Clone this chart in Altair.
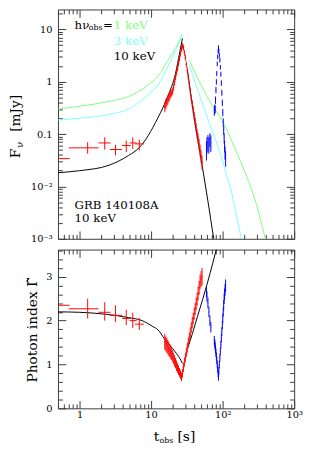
import altair as alt
import pandas as pd

FONT = "DejaVu Serif"
FRAME = "#3a3a3a"
RED = "#ff0000"
BLUE = "#0000ff"
GREEN = "#7cff7c"
CYAN = "#7cffff"
BLACK = "#000000"

# ---------------- model curves (top panel: F_nu [mJy]) ----------------
green_t = [0.5, 1.0, 2.58, 4.84, 9.1, 12.5, 17.1, 21.8, 27.4, 34.2, 44.0, 66.4, 102, 164, 213, 292, 360, 420]
green_F = [0.30, 0.34, 0.42, 0.52, 0.87, 1.28, 2.55, 4.3, 8.1, 2.55, 1.22, 0.42, 0.166, 0.039, 0.0165, 0.0049, 0.00166, 0.0007]
green_seg = [0, 0, 0, 0, 0, 0, 0, 0, 0, 1, 1, 1, 1, 1, 1, 1, 1, 1]
cyan_t = [0.5, 1.0, 2.58, 4.84, 9.1, 12.5, 17.1, 21.8, 27.4, 34.2, 44.0, 62.5, 96, 113, 133, 155, 182, 200]
cyan_F = [0.186, 0.20, 0.237, 0.30, 0.56, 0.866, 1.9, 3.77, 7.8, 2.1, 0.75, 0.19, 0.0365, 0.017, 0.0078, 0.0029, 0.001, 0.0005]
cyan_seg = [0, 0, 0, 0, 0, 0, 0, 0, 0, 1, 1, 1, 1, 1, 1, 1, 1, 1]
black_t = [0.5, 1.0, 2.58, 4.84, 6.9, 9.1, 10.6, 12.5, 17.1, 22.0, 25.0, 27.4, 32.2, 39.8, 51.5, 62.5, 75.2, 82]
black_F = [0.0183, 0.020, 0.0254, 0.039, 0.056, 0.093, 0.134, 0.206, 0.525, 1.45, 3.5, 6.7, 1.68, 0.218, 0.026, 0.0051, 0.001, 0.0005]
black_seg = [0, 0, 0, 0, 0, 0, 0, 0, 0, 0, 0, 0, 1, 1, 1, 1, 1, 1]

# ---------------- model curve (bottom panel: photon index) ----------------
gam_t = [0.5, 1.0, 2.2, 4.84, 7.5, 10.6, 12.5, 15.3, 21.7, 25.2, 27.4, 32.2, 37.9, 44.6, 52.5, 61.8, 72.8, 83]
gam_G = [2.20, 2.19, 2.15, 2.07, 2.0, 1.865, 1.79, 1.59, 1.29, 1.14, 1.025, 1.355, 1.71, 2.10, 2.48, 2.88, 3.31, 3.67]
gam_seg = [0, 0, 0, 0, 0, 0, 0, 0, 0, 0, 0, 1, 1, 1, 1, 1, 1, 1]

# ---------------- early binned points (red) ----------------
e_t = [0.47, 1.30, 2.25, 3.18, 4.5, 5.55, 6.85]
e_tlo = [0.30, 0.707, 1.84, 2.66, 3.92, 5.0, 5.97]
e_thi = [0.73, 1.84, 2.72, 3.92, 5.2, 6.3, 7.93]
e_F = [0.034, 0.0546, 0.0678, 0.0507, 0.0604, 0.0678, 0.065]
e_Flo = [0.030, 0.0422, 0.0507, 0.0392, 0.0453, 0.0522, 0.0487]
e_Fhi = [0.038, 0.0699, 0.0867, 0.0622, 0.0749, 0.0867, 0.078]
e_G = [2.35, 2.27, 2.19, 2.12, 2.05, 2.0, 1.92]
e_Glo = [2.28, 2.05, 2.0, 1.97, 1.90, 1.83, 1.79]
e_Ghi = [2.42, 2.50, 2.42, 2.35, 2.25, 2.18, 2.06]

# ---------------- dense points, first pulse (red) ----------------
r_t = [15.55, 16.05, 16.57, 17.10, 17.65, 18.21, 18.79, 19.40, 20.02, 20.66, 21.32, 22.00, 22.71,
       23.44, 24.19, 24.96, 25.76, 26.59, 27.44, 28.32, 29.23, 30.16, 31.13, 32.13, 33.15, 34.21,
       35.31, 36.44, 37.61, 38.81, 40.06, 41.34, 42.66, 44.03, 45.44, 46.90, 48.40, 49.95, 51.55]
r_F = [0.335, 0.382, 0.416, 0.454, 0.494, 0.539, 0.588, 0.614, 0.669, 0.796, 0.987, 1.225, 1.52,
       1.81, 2.24, 2.78, 3.45, 4.29, 4.88, 4.48, 3.61, 2.90, 2.15, 1.66, 1.225, 0.905,
       0.669, 0.494, 0.382, 0.294, 0.227, 0.175, 0.135, 0.104, 0.084, 0.065, 0.050, 0.0387, 0.0298]
r_Fe = [0.22, 0.22, 0.20, 0.20, 0.18, 0.18, 0.16, 0.15, 0.15, 0.15, 0.14, 0.14, 0.14,
        0.13, 0.13, 0.13, 0.13, 0.13, 0.13, 0.13, 0.13, 0.13, 0.13, 0.14, 0.14, 0.14,
        0.15, 0.15, 0.16, 0.17, 0.18, 0.19, 0.20, 0.21, 0.22, 0.24, 0.26, 0.28, 0.30]
r_G = [1.52, 1.47, 1.44, 1.40, 1.36, 1.32, 1.28, 1.24, 1.19, 1.14, 1.08, 1.03, 0.97,
       0.92, 0.87, 0.82, 0.77, 0.72, 0.80, 0.93, 1.05, 1.16, 1.27, 1.38, 1.50, 1.61,
       1.72, 1.84, 1.95, 2.05, 2.16, 2.27, 2.38, 2.49, 2.62, 2.75, 2.88, 2.95, 3.0]
r_Ge = [0.18, 0.17, 0.17, 0.16, 0.16, 0.15, 0.15, 0.14, 0.14, 0.13, 0.13, 0.12, 0.12,
        0.11, 0.11, 0.10, 0.10, 0.10, 0.10, 0.10, 0.10, 0.10, 0.10, 0.11, 0.11, 0.11,
        0.12, 0.12, 0.13, 0.13, 0.14, 0.14, 0.15, 0.15, 0.16, 0.16, 0.17, 0.18, 0.20]

# ---------------- dense points, second pulse (blue) ----------------
b_t = [59.4, 60.4, 62.3, 64.3, 66.4, 68.5,
       76.5, 77.7, 78.5, 79.6, 80.7, 81.8, 82.8, 84.1, 85.4, 86.6, 87.5, 88.5, 90.0, 91.5, 93.0,
       94.5, 96.0, 97.5, 99.0, 100.5, 102.0, 103.5, 105.0, 106.5, 108.0, 110.0]
b_F = [0.052, 0.065, 0.071, 0.065, 0.080, 0.070,
       0.28, 0.31, 0.30, 0.45, 0.70, 1.0, 1.44, 2.2, 3.0, 3.8, 4.5, 3.9, 3.2, 2.6, 1.9,
       1.4, 0.95, 0.62, 0.40, 0.26, 0.17, 0.12, 0.085, 0.060, 0.045, 0.035]
b_Fe = [0.40, 0.35, 0.35, 0.35, 0.30, 0.35,
        0.20, 0.18, 0.18, 0.16, 0.14, 0.12, 0.11, 0.10, 0.10, 0.10, 0.10, 0.10, 0.10, 0.10, 0.10,
        0.11, 0.12, 0.13, 0.14, 0.16, 0.18, 0.20, 0.22, 0.25, 0.28, 0.32]
b_G = [2.65, 2.55, 2.40, 2.20, 2.00, 1.85,
       1.55, 1.48, 1.42, 1.35, 1.27, 1.18, 1.10, 1.00, 0.90, 0.80, 0.72, 0.85, 1.00, 1.15, 1.30,
       1.45, 1.60, 1.75, 1.90, 2.05, 2.20, 2.35, 2.50, 2.60, 2.70, 2.80]
b_Ge = [0.12, 0.12, 0.12, 0.12, 0.12, 0.12,
        0.10, 0.10, 0.10, 0.10, 0.10, 0.09, 0.09, 0.09, 0.09, 0.09, 0.09, 0.09, 0.09, 0.09, 0.09,
        0.09, 0.10, 0.10, 0.10, 0.11, 0.11, 0.12, 0.12, 0.13, 0.13, 0.14]

# ---------------- axes ----------------
X_DOMAIN = [0.5, 1000]
F_DOMAIN = [0.001, 24]
G_DOMAIN = [0, 3.62]
X_MAJ = [1, 10, 100, 1000]
X_MIN = [0.5, 0.6, 0.7, 0.8, 0.9, 2, 3, 4, 5, 6, 7, 8, 9, 20, 30, 40, 50, 60, 70, 80, 90,
         200, 300, 400, 500, 600, 700, 800, 900]
F_MAJ = [0.001, 0.01, 0.1, 1, 10]
F_MIN = [0.002, 0.003, 0.004, 0.005, 0.006, 0.007, 0.008, 0.009,
         0.02, 0.03, 0.04, 0.05, 0.06, 0.07, 0.08, 0.09,
         0.2, 0.3, 0.4, 0.5, 0.6, 0.7, 0.8, 0.9, 2, 3, 4, 5, 6, 7, 8, 9, 20]
G_MAJ = [0, 1, 2, 3]
G_MIN = [0.2, 0.4, 0.6, 0.8, 1.2, 1.4, 1.6, 1.8, 2.2, 2.4, 2.6, 2.8, 3.2, 3.4, 3.6]

W, H_TOP, H_BOT = 241, 234, 162
MAJ, MIN = 8, 4.5

xscale = alt.Scale(type="log", domain=X_DOMAIN, nice=False)
fscale = alt.Scale(type="log", domain=F_DOMAIN, nice=False)
gscale = alt.Scale(domain=G_DOMAIN, nice=False, zero=False)

X_LAB = "datum.value < 5 ? '1' : datum.value < 50 ? '10' : datum.value < 500 ? '10\u00b2' : '10\u00b3'"
F_LAB = ("datum.value > 5 ? '10' : datum.value > 0.5 ? '1' : datum.value > 0.05 ? '0.1' : "
         "datum.value > 0.005 ? '10\u207b\u00b2' : '10\u207b\u00b3'")


def axis(orient, values, size, labels=False, expr=None, pad=5):
    kw = dict(orient=orient, values=values, tickSize=size, offset=-size, domain=False,
              grid=False, title=None, labels=labels, tickColor=FRAME, tickWidth=1)
    if labels:
        kw.update(labelExpr=expr, labelFont=FONT, labelFontSize=10, labelColor="black",
                  labelPadding=pad, labelFlush=False, labelOverlap=False)
    return alt.Axis(**kw)


def x_axes(with_labels):
    return [axis("bottom", X_MAJ, MAJ, with_labels, X_LAB, 1), axis("bottom", X_MIN, MIN),
            axis("top", X_MAJ, MAJ), axis("top", X_MIN, MIN)]


def y_axes(maj, mn, expr):
    return [axis("left", maj, MAJ, True, expr, 6), axis("left", mn, MIN),
            axis("right", maj, MAJ), axis("right", mn, MIN)]


one = pd.DataFrame({"k": [0]})


def txt(s, x, y, size=14, angle=0, color="black", align="center"):
    return alt.Chart(one).mark_text(text=s, font=FONT, fontSize=size, angle=angle, color=color,
                                    align=align, baseline="middle").encode(
        x=alt.value(x), y=alt.value(y))


def lab(s, t, f, size=12, color="black", dx=0, dy=0, field="F", scale=None):
    d = pd.DataFrame({"t": [t], field: [f]})
    return alt.Chart(d).mark_text(text=s, font=FONT, fontSize=size, color=color, align="left",
                                  baseline="middle", dx=dx, dy=dy).encode(
        x=alt.X("t:Q", scale=xscale, axis=None), y=alt.Y(f"{field}:Q", scale=scale, axis=None))


def curve(t, v, seg, color, field, scale, xa=None, ya=None):
    d = pd.DataFrame({"t": t, field: v, "seg": seg})
    return alt.Chart(d).mark_line(color=color, strokeWidth=1, clip=True,
                                  interpolate="monotone").encode(
        x=alt.X("t:Q", scale=xscale, axis=xa), y=alt.Y(f"{field}:Q", scale=scale, axis=ya),
        detail="seg:N")


def errbars(d, field, color, scale, xa=None, ya=None, width=1):
    h = alt.Chart(d).mark_rule(color=color, strokeWidth=width, clip=True).encode(
        x=alt.X("tlo:Q", scale=xscale, axis=xa), x2="thi:Q",
        y=alt.Y(f"{field}:Q", scale=scale, axis=ya))
    v = alt.Chart(d).mark_rule(color=color, strokeWidth=width, clip=True).encode(
        x=alt.X("t:Q", scale=xscale, axis=None),
        y=alt.Y(f"{field}lo:Q", scale=scale, axis=None), y2=f"{field}hi:Q")
    return [h, v]


# ---------- tables ----------
early = pd.DataFrame({"t": e_t, "tlo": e_tlo, "thi": e_thi, "F": e_F, "Flo": e_Flo, "Fhi": e_Fhi,
                      "G": e_G, "Glo": e_Glo, "Ghi": e_Ghi})
red = pd.DataFrame({"t": r_t, "F": r_F, "G": r_G})
red["tlo"], red["thi"] = red["t"] * 0.975, red["t"] * 1.025
red["Flo"], red["Fhi"] = red["F"] * (1 - pd.Series(r_Fe)), red["F"] * (1 + pd.Series(r_Fe))
red["Glo"], red["Ghi"] = red["G"] - pd.Series(r_Ge), red["G"] + pd.Series(r_Ge)
blue = pd.DataFrame({"t": b_t, "F": b_F, "G": b_G})
blue["tlo"], blue["thi"] = blue["t"] * 0.99, blue["t"] * 1.01
blue["Flo"], blue["Fhi"] = blue["F"] * (1 - pd.Series(b_Fe)), blue["F"] * (1 + pd.Series(b_Fe))
blue["Glo"], blue["Ghi"] = blue["G"] - pd.Series(b_Ge), blue["G"] + pd.Series(b_Ge)

xa_top = x_axes(False)
ya_top = y_axes(F_MAJ, F_MIN, F_LAB)
xa_bot = x_axes(True)
ya_bot = y_axes(G_MAJ, G_MIN, "datum.value")

# ---------- top panel ----------
top_layers = [
    curve(green_t, green_F, green_seg, GREEN, "F", fscale, xa_top[0], ya_top[0]),
    curve(cyan_t, cyan_F, cyan_seg, CYAN, "F", fscale, xa_top[1], ya_top[1]),
    curve(black_t, black_F, black_seg, BLACK, "F", fscale, xa_top[2], ya_top[2]),
    *errbars(early, "F", RED, fscale, xa_top[3], ya_top[3]),
    *errbars(red, "F", RED, fscale),
    *errbars(blue, "F", BLUE, fscale),
    lab("h\u03bd", 0.854, 12.1, scale=fscale),
    lab("obs", 0.854, 12.1, size=8, dx=14.5, dy=3, scale=fscale),
    lab("=", 0.854, 12.1, dx=29, scale=fscale),
    lab("1 keV", 3.02, 12.1, color=GREEN, scale=fscale),
    lab("3 keV", 3.02, 5.93, color=CYAN, scale=fscale),
    lab("10 keV", 3.02, 3.03, scale=fscale),
    lab("GRB 140108A", 0.854, 0.00433, scale=fscale),
    lab("10 keV", 0.854, 0.00244, scale=fscale),
    txt("F", -43, 147, angle=270),
    txt("\u03bd", -39, 138, size=10, angle=270),
    txt("[mJy]", -43, 106, angle=270),
]
top = alt.layer(*top_layers).properties(width=W, height=H_TOP).resolve_axis(
    x="independent", y="independent")

# ---------- bottom panel ----------
bot_layers = [
    curve(gam_t, gam_G, gam_seg, BLACK, "G", gscale, xa_bot[0], ya_bot[0]),
    *errbars(early, "G", RED, gscale, xa_bot[1], ya_bot[1]),
    *errbars(red, "G", RED, gscale, xa_bot[2], ya_bot[2]),
    *errbars(blue, "G", BLUE, gscale, xa_bot[3], ya_bot[3]),
    txt("Photon index \u0393\u0302", -25, 82, angle=270),
    txt("t", 100.5, 191),
    txt("obs", 103.5, 195, size=8, align="left"),
    txt("[s]", 131, 191),
]
bot = alt.layer(*bot_layers).properties(width=W, height=H_BOT).resolve_axis(
    x="independent", y="independent")

chart = alt.vconcat(top, bot, spacing=4).properties(
    padding={"left": 0, "top": -4, "right": 0, "bottom": 0}
).configure_view(stroke=FRAME, strokeWidth=1)

chart.save("out.html", embed_options={"renderer": "svg", "actions": False})
